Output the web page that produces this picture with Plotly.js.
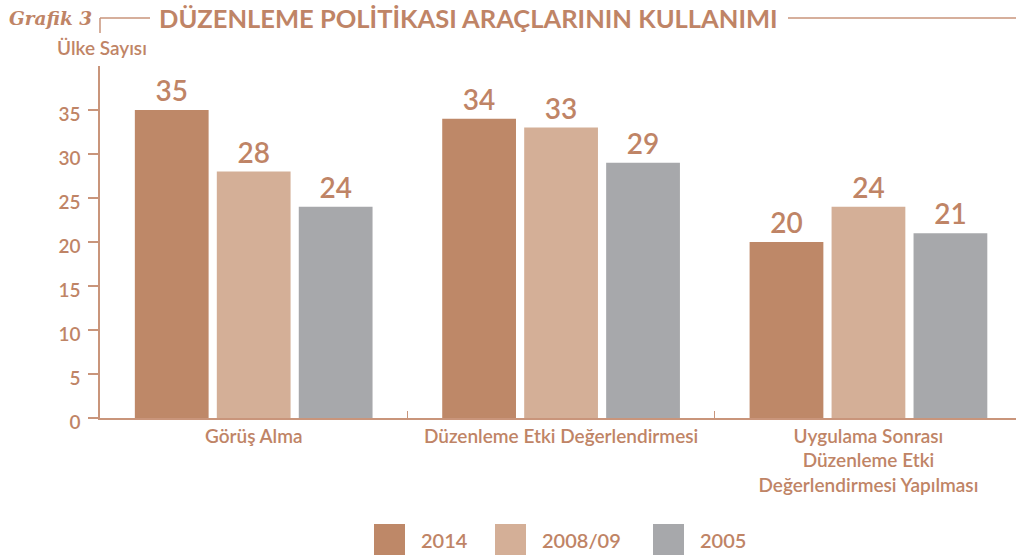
<!DOCTYPE html>
<html>
<head>
<meta charset="utf-8">
<script src="https://cdn.plot.ly/plotly-3.0.1.min.js"></script>
<style>
html,body{margin:0;padding:0;background:#fff;}
#chart{width:1016px;height:557px;}
</style>
</head>
<body>
<div id="chart"></div>
<script>
const categories = ["Görüş Alma", "Düzenleme Etki Değerlendirmesi", "Uygulama Sonrası<br>Düzenleme Etki<br>Değerlendirmesi Yapılması"];
const seriesNames = ["2014", "2008/09", "2005"];
const values2014 = [35, 34, 20];
const values2008 = [28, 33, 24];
const values2005 = [24, 29, 21];
const yTicks = [0, 5, 10, 15, 20, 25, 30, 35];
const seriesColors = ["#BE8868", "#D4AF97", "#A7A8AB"];

const textColor = "#BF8466";
const lineColor = "#C9957B";
const fontFam = "Lato, 'Open Sans', sans-serif";

const allValues = [values2014, values2008, values2005];
const data = allValues.map((vals, i) => ({
  type: "bar",
  name: seriesNames[i],
  x: categories,
  y: vals,
  marker: {color: seriesColors[i]},
  text: vals.map(String),
  textposition: "outside",
  textfont: {family: fontFam, size: 28, color: textColor, weight: 600},
  cliponaxis: false,
  hoverinfo: "x+y+name",
  showlegend: false
}));

// custom legend with large squares
const legendX = [374, 495, 653];
const shapes = [
  // title lines
  {type: "line", xref: "paper", yref: "paper", x0: -0.0, x1: 50/916, y0: 1 + (66-18)/352, y1: 1 + (66-18)/352, line: {color: lineColor, width: 1.5}},
  {type: "line", xref: "paper", yref: "paper", x0: 0, x1: 0, y0: 1 + (66-18)/352, y1: 1 + (66-33)/352, line: {color: lineColor, width: 1.5}},
  {type: "line", xref: "paper", yref: "paper", x0: (788-100)/916, x1: 1, y0: 1 + (66-18)/352, y1: 1 + (66-18)/352, line: {color: lineColor, width: 1.5}}
];
const annotations = [
  {xref: "paper", yref: "paper", x: (7-100)/916, y: 1 + (66-19)/352, xanchor: "left", yanchor: "middle", showarrow: false,
   text: "<b><i>Grafik 3</i></b>", font: {family: "'DejaVu Serif', serif", size: 18.5, color: textColor}},
  {xref: "paper", yref: "paper", x: (157-100)/916, y: 1 + (66-18)/352, xanchor: "left", yanchor: "middle", showarrow: false,
   text: "<b>DÜZENLEME POLİTİKASI ARAÇLARININ KULLANIMI</b>", font: {family: fontFam, size: 25.5, color: textColor}},
  {xref: "paper", yref: "paper", x: (102-100)/916, y: 1 + (66-47)/352, xanchor: "center", yanchor: "middle", showarrow: false,
   text: "Ülke Sayısı", font: {family: fontFam, size: 19, color: textColor, weight: 600}}
];
seriesNames.forEach((name, i) => {
  const x0 = legendX[i];
  shapes.push({type: "rect", xref: "paper", yref: "paper",
    x0: (x0-100)/916, x1: (x0+31-100)/916,
    y0: -(555-418)/352, y1: -(524-418)/352,
    fillcolor: seriesColors[i], line: {width: 0}});
  annotations.push({xref: "paper", yref: "paper", x: (x0+45-100)/916, y: -(540-418)/352,
    xanchor: "left", yanchor: "middle", showarrow: false, text: name,
    font: {family: fontFam, size: 20, color: textColor, weight: 600}});
});

const layout = {
  width: 1016, height: 557,
  margin: {l: 100, r: 0, t: 66, b: 139, pad: 0},
  paper_bgcolor: "#fff", plot_bgcolor: "#fff",
  barmode: "group", bargap: 0.2, bargroupgap: 0.1,
  showlegend: false,
  font: {family: fontFam, color: textColor},
  xaxis: {
    type: "category", range: [-0.5, 2.48],
    showline: true, linecolor: lineColor, linewidth: 1.5,
    ticks: "inside", tickson: "boundaries", ticklen: 7, tickcolor: lineColor, tickwidth: 1,
    tickfont: {family: fontFam, size: 19, color: textColor, weight: 600},
    showgrid: false, zeroline: false, fixedrange: true
  },
  yaxis: {
    range: [0, 40], tickvals: yTicks, ticktext: yTicks.map(String),
    showline: true, linecolor: lineColor, linewidth: 1.5,
    ticks: "outside", ticklen: 10, tickcolor: lineColor, tickwidth: 1.5,
    tickfont: {family: fontFam, size: 19, color: textColor, weight: 600},
    ticklabelstandoff: 4, ticklabelshift: 4,
    showgrid: false, zeroline: false, fixedrange: true
  },
  shapes: shapes,
  annotations: annotations
};

Plotly.newPlot("chart", data, layout, {displayModeBar: false, staticPlot: false});
</script>
</body>
</html>
